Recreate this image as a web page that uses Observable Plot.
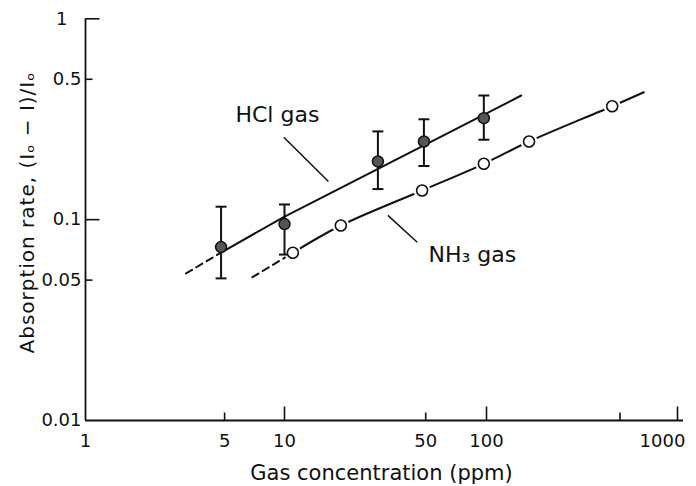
<!DOCTYPE html>
<html>
<head>
<meta charset="utf-8">
<script src="https://cdn.jsdelivr.net/npm/d3@7"></script>
<script src="https://cdn.jsdelivr.net/npm/@observablehq/plot@0.6"></script>
<style>
  html, body { margin: 0; padding: 0; background: #fff; }
  #chart svg text[transform*="rotate(-90)"] { letter-spacing: 1px; }
</style>
</head>
<body>
<div id="chart"></div>
<script>
// ---- data ----
const hclConc = [4.8, 10, 29, 49, 97];
const hclRate = [0.073, 0.095, 0.195, 0.245, 0.32];
const hclHigh = [0.116, 0.119, 0.275, 0.316, 0.415];
const hclLow  = [0.051, 0.067, 0.142, 0.185, 0.25];

const nh3Conc = [11, 19, 48, 97, 167, 455];
const nh3Rate = [0.0684, 0.0935, 0.1397, 0.1897, 0.2449, 0.3671];

// fitted curves (first segment is the dashed extrapolation)
const hclFitConc = [3.2, 4.8, 9.9, 152];
const hclFitRate = [0.054, 0.0686, 0.103, 0.415];
const nh3FitConc = [6.9, 11, 19, 48, 97, 167, 455, 666];
const nh3FitRate = [0.0517, 0.0684, 0.0935, 0.1397, 0.1897, 0.2449, 0.3671, 0.431];

// annotations
const labelText = ["HCl gas", "NH\u2083 gas"];
const labelConc = [5.67, 51.6];
const labelRate = [0.331, 0.0665];
const leaderConc1 = [9.92, 32.5];
const leaderRate1 = [0.257, 0.105];
const leaderConc2 = [16.5, 45.4];
const leaderRate2 = [0.155, 0.0772];

// axes
const xTickLabels = [1, 5, 10, 50, 100, 1000];
const xMajorTicks = [10, 100, 1000];
const xMinorTicks = [5, 50, 500];
const yTickLabels = [0.01, 0.05, 0.1, 0.5, 1];
const yMajorTicks = [0.1, 1];
const yMinorTicks = [0.05, 0.5];
const xAxisEnd = 1075;
const xTitle = "Gas concentration (ppm)";
const yTitle = "Absorption rate, (I\u2092 \u2212 I)/I\u2092";

// ---- tables ----
const hcl = hclConc.map((x, i) => ({x, y: hclRate[i], hi: hclHigh[i], lo: hclLow[i]}));
const nh3 = nh3Conc.map((x, i) => ({x, y: nh3Rate[i]}));
const hclFit = hclFitConc.map((x, i) => ({x, y: hclFitRate[i]}));
const nh3Fit = nh3FitConc.map((x, i) => ({x, y: nh3FitRate[i]}));
const labels = labelText.map((t, i) => ({t, x: labelConc[i], y: labelRate[i]}));
const leaders = leaderConc1.map((x1, i) => ({x1, y1: leaderRate1[i], x2: leaderConc2[i], y2: leaderRate2[i]}));

const yMin = yTickLabels[0], yMax = yTickLabels[yTickLabels.length - 1];
const xMin = xTickLabels[0];

// custom line symbols for ticks and error-bar caps
const tickUp = {draw(c, s) { const l = Math.sqrt(s / Math.PI); c.moveTo(0, 0); c.lineTo(0, -l); }};
const tickRight = {draw(c, s) { const l = Math.sqrt(s / Math.PI); c.moveTo(0, 0); c.lineTo(l, 0); }};
const capSym = {draw(c, s) { const l = Math.sqrt(s / Math.PI); c.moveTo(-l, 0); c.lineTo(l, 0); }};

const ink = "#111";
const font = "DejaVu Sans";

const chart = Plot.plot({
  width: 696,
  height: 486,
  marginLeft: 85,
  marginRight: 13,
  marginTop: 18,
  marginBottom: 66,
  x: {type: "log", domain: [1, 10, 100, 1000], range: [85, 284, 486, 677], axis: null},
  y: {type: "log", domain: [yMin, yMax], range: [420, 18.3], axis: null},
  style: {background: "white", color: ink, fontFamily: font},
  marks: [
    // axis lines
    Plot.ruleY([yMin], {y: d => d, x1: () => xMin, x2: () => xAxisEnd, stroke: ink, strokeWidth: 1.8}),
    Plot.ruleX([xMin], {x: d => d, y1: () => yMin, y2: () => yMax, stroke: ink, strokeWidth: 1.8}),
    // inward ticks
    Plot.dot(xMajorTicks, {x: d => d, y: () => yMin, r: 14, symbol: tickUp, stroke: ink, fill: "none", strokeWidth: 1.6}),
    Plot.dot(xMinorTicks, {x: d => d, y: () => yMin, r: 8, symbol: tickUp, stroke: ink, fill: "none", strokeWidth: 1.6}),
    Plot.dot(yMajorTicks, {x: () => xMin, y: d => d, r: 14, symbol: tickRight, stroke: ink, fill: "none", strokeWidth: 1.6}),
    Plot.dot(yMinorTicks, {x: () => xMin, y: d => d, r: 7, symbol: tickRight, stroke: ink, fill: "none", strokeWidth: 1.6}),
    // tick labels
    Plot.text(xTickLabels.filter(d => d < 1000), {x: d => d, y: () => yMin, text: d => String(d), dy: 21, fontSize: 18, fill: ink}),
    Plot.text(xTickLabels.filter(d => d >= 1000), {x: d => d, y: () => yMin, text: d => String(d), dy: 21, dx: -15, fontSize: 18, fill: ink}),
    Plot.text(yTickLabels.filter(d => d < 1), {x: () => xMin, y: d => d, text: d => String(d), textAnchor: "end", dx: -4, fontSize: 18, fill: ink}),
    Plot.text(yTickLabels.filter(d => d >= 1), {x: () => xMin, y: d => d, text: d => String(d), textAnchor: "end", dx: -18, fontSize: 18, fill: ink}),
    // axis titles
    Plot.text([xTitle], {frameAnchor: "bottom", textAnchor: "middle", lineAnchor: "middle", text: d => d, dy: 53, dx: -3, fontSize: 21, fill: ink}),
    Plot.text([yTitle], {frameAnchor: "left", textAnchor: "middle", lineAnchor: "middle", text: d => d, rotate: -90, dx: -58, dy: -7, fontSize: 20, fill: ink}),
    // fitted lines
    Plot.line(hclFit.slice(0, 2), {x: "x", y: "y", stroke: ink, strokeWidth: 2, strokeDasharray: "7,5"}),
    Plot.line(hclFit.slice(1), {x: "x", y: "y", stroke: ink, strokeWidth: 2}),
    Plot.line(nh3Fit.slice(0, 2), {x: "x", y: "y", stroke: ink, strokeWidth: 2, strokeDasharray: "7,5"}),
    Plot.line(nh3Fit.slice(1), {x: "x", y: "y", stroke: ink, strokeWidth: 2, curve: "catmull-rom"}),
    // NH3 halo (gap in the line around open circles)
    Plot.dot(nh3, {x: "x", y: "y", r: 8.5, fill: "white", stroke: "none"}),
    // HCl error bars
    Plot.ruleX(hcl, {x: "x", y1: "lo", y2: "hi", stroke: ink, strokeWidth: 2}),
    Plot.dot(hcl, {x: "x", y: "hi", r: 5.5, symbol: capSym, stroke: ink, fill: "none", strokeWidth: 2}),
    Plot.dot(hcl, {x: "x", y: "lo", r: 5.5, symbol: capSym, stroke: ink, fill: "none", strokeWidth: 2}),
    // HCl points
    Plot.dot(hcl, {x: "x", y: "y", r: 5.5, fill: "#555", stroke: ink, strokeWidth: 1.5}),
    // NH3 points
    Plot.dot(nh3, {x: "x", y: "y", r: 5.5, fill: "white", stroke: ink, strokeWidth: 1.6}),
    // leader lines and labels
    Plot.link(leaders, {x1: "x1", y1: "y1", x2: "x2", y2: "y2", stroke: ink, strokeWidth: 1.5}),
    Plot.text(labels, {x: "x", y: "y", text: "t", textAnchor: "start", fontSize: 22, fill: ink})
  ]
});
document.getElementById("chart").appendChild(chart);
</script>
</body>
</html>
